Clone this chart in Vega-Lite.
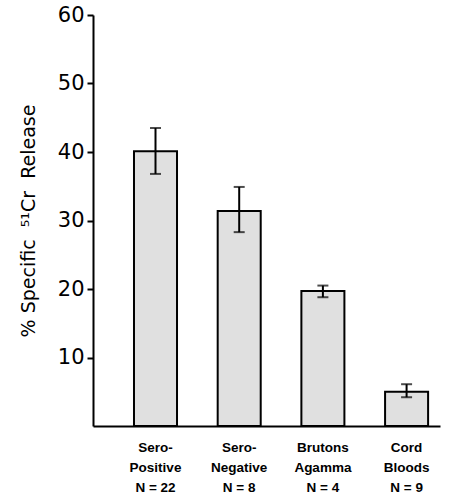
{
  "$schema": "https://vega.github.io/schema/vega-lite/v6.json",
  "autosize": "none",
  "width": 347,
  "height": 411,
  "padding": {"left": 93, "top": 15, "right": 11, "bottom": 68},
  "background": "white",
  "config": {"view": {"stroke": null}, "font": "DejaVu Sans"},
  "data": {"values": [
    {"group": "Sero-|Positive|N = 22", "value": 40.1, "lo": 36.8, "hi": 43.5},
    {"group": "Sero-|Negative|N = 8", "value": 31.4, "lo": 28.3, "hi": 34.9},
    {"group": "Brutons|Agamma|N = 4", "value": 19.7, "lo": 18.8, "hi": 20.5},
    {"group": "Cord|Bloods|N = 9", "value": 5.0, "lo": 4.2, "hi": 6.1}
  ]},
  "encoding": {
    "x": {
      "field": "group", "type": "nominal", "sort": null,
      "scale": {"paddingInner": 0.486, "paddingOuter": 0.316, "align": 0.775},
      "axis": {
        "title": null, "labelAngle": 0, "ticks": false,
        "domainColor": "black", "domainWidth": 2,
        "labelExpr": "split(datum.label, '|')",
        "labelFont": "Liberation Sans",
        "labelFontSize": 13.5, "labelFontWeight": "bold", "labelColor": "black",
        "labelLineHeight": 20, "labelPadding": 14, "labelBaseline": "top"
      }
    }
  },
  "layer": [
    {
      "mark": {"type": "bar", "fill": "#e0e0e0", "stroke": "black", "strokeWidth": 2},
      "encoding": {
        "y": {
          "field": "value", "type": "quantitative",
          "scale": {"domain": [0, 60], "nice": false},
          "axis": {
            "title": "% Specific\u00a0\u00a0\u2075\u00b9Cr\u00a0\u00a0Release",
            "titleFontSize": 19, "titleFontWeight": "normal", "titleColor": "black",
            "titlePadding": 19,
            "values": [10, 20, 30, 40, 50, 60],
            "grid": false, "domainColor": "black", "domainWidth": 2,
            "tickColor": "black", "tickWidth": 2, "tickSize": 6,
            "labelFontSize": 21, "labelColor": "black", "labelPadding": 3
          }
        }
      }
    },
    {
      "mark": {"type": "rule", "strokeWidth": 2, "color": "black"},
      "encoding": {
        "y": {"field": "lo", "type": "quantitative"},
        "y2": {"field": "hi"}
      }
    },
    {
      "mark": {"type": "tick", "size": 11, "thickness": 2, "color": "black", "orient": "horizontal"},
      "encoding": {"y": {"field": "hi", "type": "quantitative"}}
    },
    {
      "mark": {"type": "tick", "size": 11, "thickness": 2, "color": "black", "orient": "horizontal"},
      "encoding": {"y": {"field": "lo", "type": "quantitative"}}
    }
  ]
}
